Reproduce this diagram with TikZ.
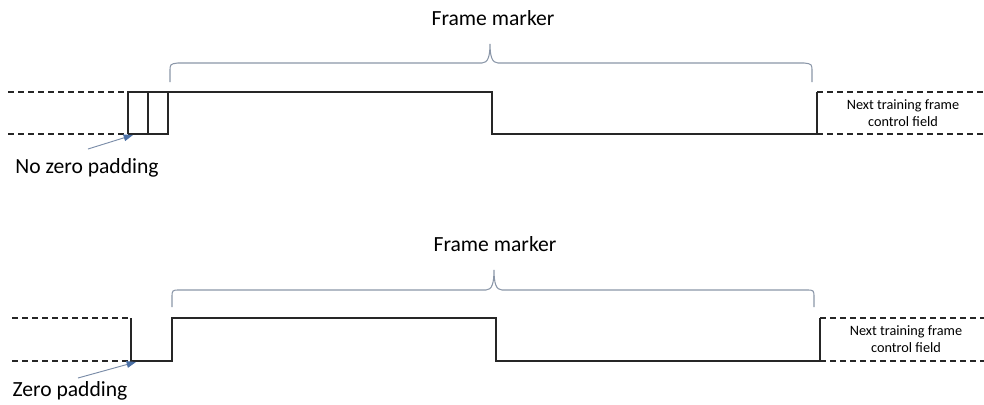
\documentclass[tikz,border=0pt]{standalone}
\usepackage{fontspec}
\setmainfont{Carlito}
\usetikzlibrary{arrows.meta}
\definecolor{sig}{HTML}{262626}
\definecolor{brace}{HTML}{8A96A8}
\definecolor{arr}{HTML}{7A8CA8}
\definecolor{arrhead}{HTML}{4A6FA5}
\tikzset{
  signal/.style={draw=sig, line width=1.2pt, line join=miter},
  dashline/.style={draw=sig, line width=1pt, dash pattern=on 4.5pt off 3pt},
  bracepath/.style={draw=brace, line width=0.8pt},
  label/.style={font=\fontsize{16.2pt}{18pt}\selectfont, text=black, inner sep=0pt},
  small/.style={font=\fontsize{10.7pt}{12.75pt}\selectfont, text=black, align=center, inner sep=0pt},
  pointer/.style={draw=arr, line width=0.7pt, -{Triangle[length=7pt,width=5pt,color=arrhead]}}
}
\begin{document}
\begin{tikzpicture}[x=0.75pt,y=-0.75pt]
\useasboundingbox (0,0) rectangle (984,404);
% ---------------- top ----------------
\draw[dashline] (8,92) -- (128,92);
\draw[dashline] (8,134) -- (128,134);
\draw[signal] (128,134) -- (128,92) -- (492,92) -- (492,134) -- (817,134) -- (817,92);
\draw[signal] (128,134) -- (168,134) -- (168,92);
\draw[signal] (148,92) -- (148,134);
\draw[dashline] (817,92) -- (984,92);
\draw[dashline] (817,134) -- (984,134);
\draw[bracepath] (170,82) -- (170,72) .. controls (170,64) .. (178,63) -- (482,63)
  .. controls (488,63) and (490,56) .. (490,44) .. controls (490,56) and (492,63) .. (498,63)
  -- (804,63) .. controls (812,64) .. (812,72) -- (812,82);
\node[label] (fm1) at (493,18) {Frame marker};
\node[small] (next1) at (903,113.5) {Next training frame\\control field};
\node[label] (nzp) at (87,168) {No zero padding};
\coordinate (nzptail) at (88,149);
\coordinate (nzphead) at (133,135);
\draw[pointer] (nzptail) -- (nzphead);
% ---------------- bottom ----------------
\draw[dashline] (12,318) -- (131,318);
\draw[dashline] (12,361) -- (131,361);
\draw[signal] (131,318) -- (131,361) -- (172,361) -- (172,318) -- (496,318) -- (496,361) -- (820,361) -- (820,318);
\draw[dashline] (820,318) -- (984,318);
\draw[dashline] (820,361) -- (984,361);
\draw[bracepath] (172,307) -- (172,298) .. controls (172,290) .. (180,290) -- (486,290)
  .. controls (492,290) and (494,283) .. (494,270) .. controls (494,283) and (496,290) .. (502,290)
  -- (806,290) .. controls (814,290) .. (814,298) -- (814,307);
\node[label] (fm2) at (495,244) {Frame marker};
\node[small] (next2) at (906,339.5) {Next training frame\\control field};
\node[label] (zp) at (70,391) {Zero padding};
\coordinate (zptail) at (78,378);
\coordinate (zphead) at (136,362);
\draw[pointer] (zptail) -- (zphead);
\end{tikzpicture}
\end{document}
